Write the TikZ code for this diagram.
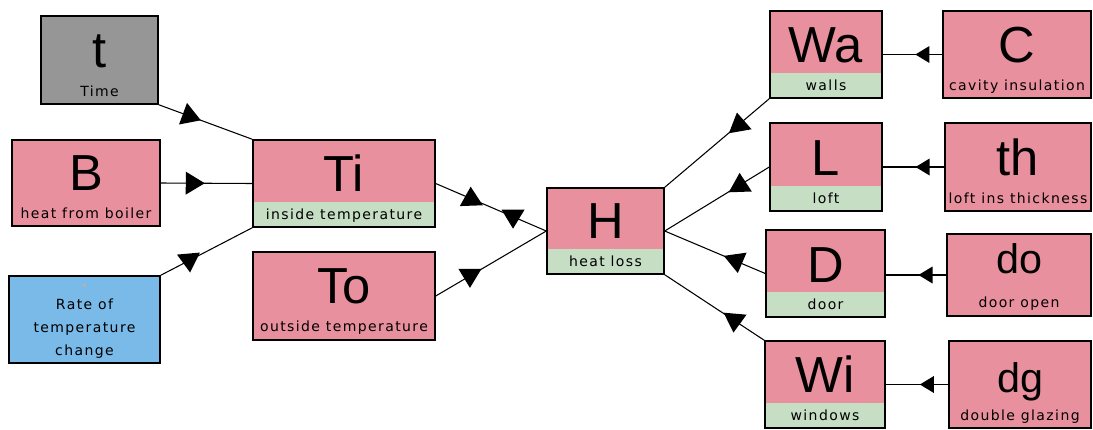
\documentclass[tikz,border=0pt]{standalone}
\usepackage{fontspec}
\setmainfont{Liberation Sans}
\newfontfamily\labfont[LetterSpace=10]{DejaVu Sans}
\usetikzlibrary{decorations.markings}
\definecolor{pinkc}{RGB}{233,144,158}
\definecolor{greenc}{RGB}{198,222,196}
\definecolor{grayc}{RGB}{150,150,150}
\definecolor{bluec}{RGB}{122,186,232}
\begin{document}
\begin{tikzpicture}[x=0.75pt,y=-0.75pt,
  box/.style={draw=black, line width=1.1pt, fill=pinkc, inner sep=0pt, rectangle},
  wh/.style 2 args={minimum width=#1*0.75pt, minimum height=#2*0.75pt},
  band/.style={path picture={\fill[greenc] ([yshift=18.75pt]path picture bounding box.south west) rectangle (path picture bounding box.south east);}},
  big/.style={font=\fontsize{38}{40}\selectfont, inner sep=0pt, anchor=base},
  smallbig/.style={font=\fontsize{31}{34}\selectfont, inner sep=0pt, anchor=base},
  lab/.style={font=\labfont\fontsize{10.5}{17.25}\selectfont, inner sep=0pt, anchor=base},
  conn/.style={draw=black, line width=0.8pt},
  arr/.style={postaction={decorate,decoration={markings,mark=at position #1 with {\fill[black] (12,0) -- (-7,11.5) -- (-7,-11.5) -- cycle;}}}},
  arrabs/.style 2 args={postaction={decorate,decoration={markings,mark=at position #1 with {\pgftransformresetnontranslations\fill[black,rotate=#2] (12,0) -- (-7,11.5) -- (-7,-11.5) -- cycle;}}}},
  sarr/.style={postaction={decorate,decoration={markings,mark=at position #1 with {\fill[black] (9,0) -- (-5,8.5) -- (-5,-8.5) -- cycle;}}}},
]
\useasboundingbox (0,0) rectangle (1093,429);

% left column
\node[box, fill=grayc, wh={117}{88}] (t) at (99.5,60) {};
\node[big] (t-big) at (99.5,67) {t};
\node[lab] (t-lab) at (99.5,96) {Time};

\node[box, wh={148}{86}] (B) at (86,183) {};
\node[big] (B-big) at (86,190) {B};
\node[lab] (B-lab) at (86,218) {heat from boiler};

\node[box, fill=bluec, wh={151}{87}] (Rate) at (84.5,319.5) {};
\fill[gray!60] (82.5,283.5) rectangle (85.5,286.5);
\node[lab, anchor=center, align=center] (Rate-lab) at (84.5,328.3) {Rate of\\temperature\\change};

% middle
\node[box, band, wh={182}{87}] (Ti) at (344,183.5) {};
\node[big] (Ti-big) at (344,191) {Ti};
\node[lab] (Ti-lab) at (344,219) {inside temperature};

\node[box, wh={182}{88}] (To) at (344,296) {};
\node[big] (To-big) at (344,303) {To};
\node[lab] (To-lab) at (344,331) {outside temperature};

\node[box, band, wh={117}{86}] (H) at (605.5,231) {};
\node[big] (H-big) at (605.5,238) {H};
\node[lab] (H-lab) at (605.5,266) {heat loss};

% right inner column
\node[box, band, wh={112}{87}] (Wa) at (826,54.5) {};
\node[big] (Wa-big) at (826,62) {Wa};
\node[lab] (Wa-lab) at (826,90) {walls};

\node[box, band, wh={112}{88}] (L) at (826,167) {};
\node[big] (L-big) at (826,175) {L};
\node[lab] (L-lab) at (826,203) {loft};

\node[box, band, wh={119}{87}] (D) at (825.5,273.5) {};
\node[big] (D-big) at (825.5,282) {D};
\node[lab] (D-lab) at (825.5,309) {door};

\node[box, band, wh={120}{87}] (Wi) at (825,384.5) {};
\node[big] (Wi-big) at (825,392) {Wi};
\node[lab] (Wi-lab) at (825,420) {windows};

% right outer column
\node[box, wh={148}{87}] (C) at (1017,54.5) {};
\node[big] (C-big) at (1017,62) {C};
\node[lab] (C-lab) at (1017,90) {cavity insulation};

\node[box, wh={146}{88}] (th) at (1018,167) {};
\node[big] (th-big) at (1018,175) {th};
\node[lab] (th-lab) at (1018,203) {loft ins thickness};

\node[box, wh={144}{82}] (do) at (1019,275) {};
\node[smallbig] (do-big) at (1019,273) {do};
\node[lab] (do-lab) at (1019,307) {door open};

\node[box, wh={142}{87}] (dg) at (1020,384.5) {};
\node[smallbig] (dg-big) at (1020,392) {dg};
\node[lab] (dg-lab) at (1020,420) {double glazing};

% connectors
\draw[conn, arr=0.33] (t.south east) -- (Ti.north west);
\draw[conn, arr=0.35] (B.east) -- (Ti.west);
\draw[conn, arrabs={0.31}{-85}] (Rate.north east) -- (Ti.south west);
\draw[conn, arrabs={0.32}{92}, arrabs={0.70}{-90}] (Ti.east) -- (H.west);
\draw[conn, arrabs={0.31}{-90}] (To.east) -- (H.west);
\draw[conn, arrabs={0.29}{100}] (Wa.south west) -- (H.north east);
\draw[conn, arrabs={0.28}{92}] (L.west) -- (H.east);
\draw[conn, arrabs={0.29}{-82}] (D.west) -- (H.east);
\draw[conn, arrabs={0.30}{-95}] (Wi.north west) -- (H.south east);
\draw[conn, sarr=0.3] (C.west) -- (Wa.east);
\draw[conn, sarr=0.32] (th.west) -- (L.east);
\draw[conn, sarr=0.31] (do.west) -- (D.east |- do.west);
\draw[conn, sarr=0.31] (dg.west) -- (Wi.east);
\end{tikzpicture}
\end{document}
